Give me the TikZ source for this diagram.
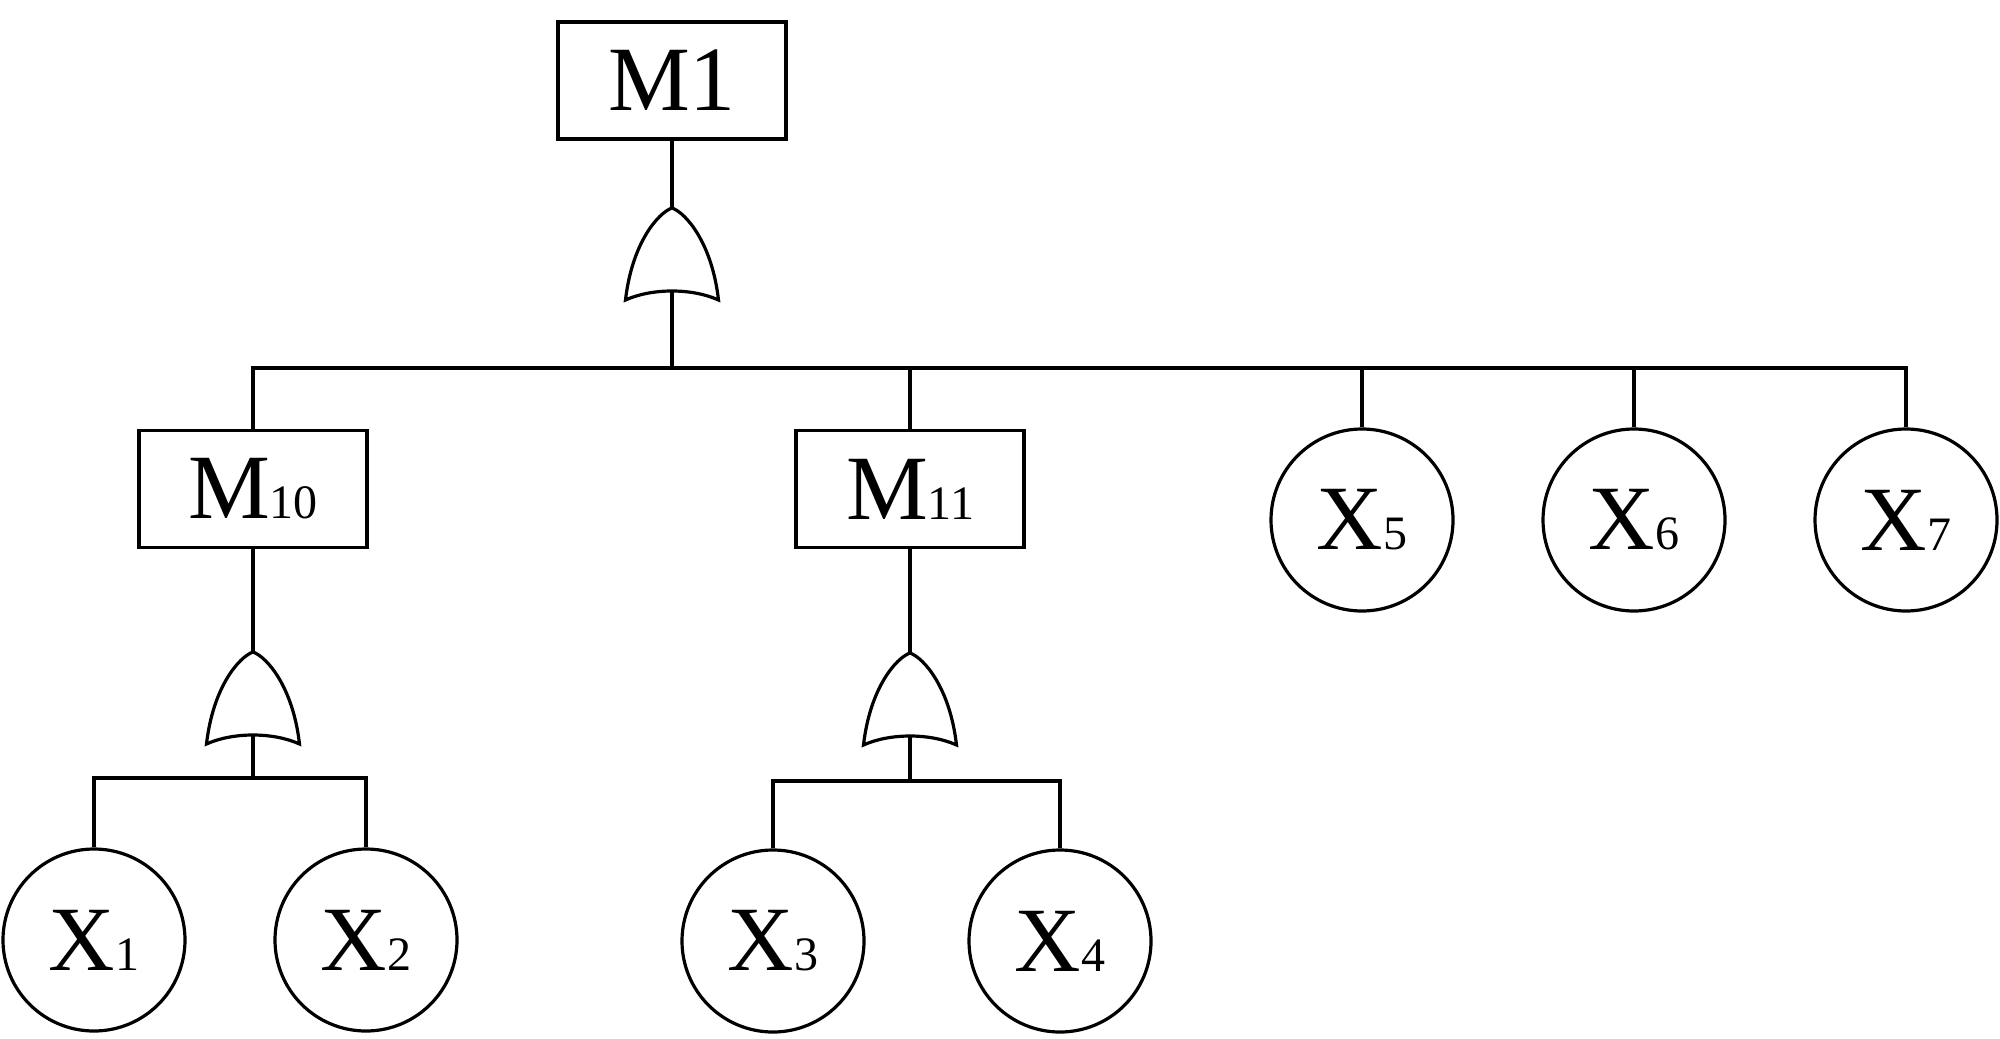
\documentclass[tikz,border=0pt]{standalone}
\usepackage{fontspec}
\setmainfont{Liberation Serif}
\newcommand\smallidx[1]{{\fontsize{24}{26}\selectfont #1}}
\begin{document}
\begin{tikzpicture}[x=0.5pt,y=-0.5pt, line width=1.6pt,
  evbox/.style={draw, rectangle, minimum width=114pt, minimum height=58.5pt, inner sep=0pt, font=\fontsize{46}{50}\selectfont},
  basic/.style={draw, circle, minimum size=91pt, inner sep=0pt, font=\fontsize{46}{50}\selectfont},
  orgate/.pic={
    \draw (0,0) .. controls (-14,5) and (-40,35) .. (-46.5,92)
          .. controls (-20,80) and (20,80) .. (46.5,92)
          .. controls (40,35) and (14,5) .. (0,0) -- cycle;
    \coordinate (-top) at (0,0);
    \coordinate (-bot) at (0,83);
  }]
\useasboundingbox (0,0) rectangle (2000,1038);

% events
\node[evbox] (M1) at (672,80.5) {M1};
\node[evbox] (M10) at (253,489) {M\smallidx{10}};
\node[evbox] (M11) at (910,489) {M\smallidx{11}};

\node[basic] (X5) at (1362,520) {X\smallidx{5}};
\node[basic] (X6) at (1634,520) {X\smallidx{6}};
\node[basic] (X7) at (1906,520) {X\smallidx{7}};

\node[basic] (X1) at (94,940) {X\smallidx{1}};
\node[basic] (X2) at (366,940) {X\smallidx{2}};
\node[basic] (X3) at (773,941) {X\smallidx{3}};
\node[basic] (X4) at (1060,941) {X\smallidx{4}};

% gates
\pic (g1) at (672,208) {orgate};
\pic (g2) at (253,652) {orgate};
\pic (g3) at (910,653) {orgate};

\coordinate (b1) at (672,368);
\coordinate (b2) at (253,778);
\coordinate (b3) at (910,781);

% connectors
\draw (M1.south) -- (g1-top);
\draw (g1-bot) -- (b1);
\draw (b1) -| (M10.north);
\draw (b1) -| (M11.north);
\draw (b1) -| (X5.north);
\draw (b1) -| (X6.north);
\draw (b1) -| (X7.north);

\draw (M10.south) -- (g2-top);
\draw (g2-bot) -- (b2);
\draw (b2) -| (X1.north);
\draw (b2) -| (X2.north);

\draw (M11.south) -- (g3-top);
\draw (g3-bot) -- (b3);
\draw (b3) -| (X3.north);
\draw (b3) -| (X4.north);
\end{tikzpicture}
\end{document}
